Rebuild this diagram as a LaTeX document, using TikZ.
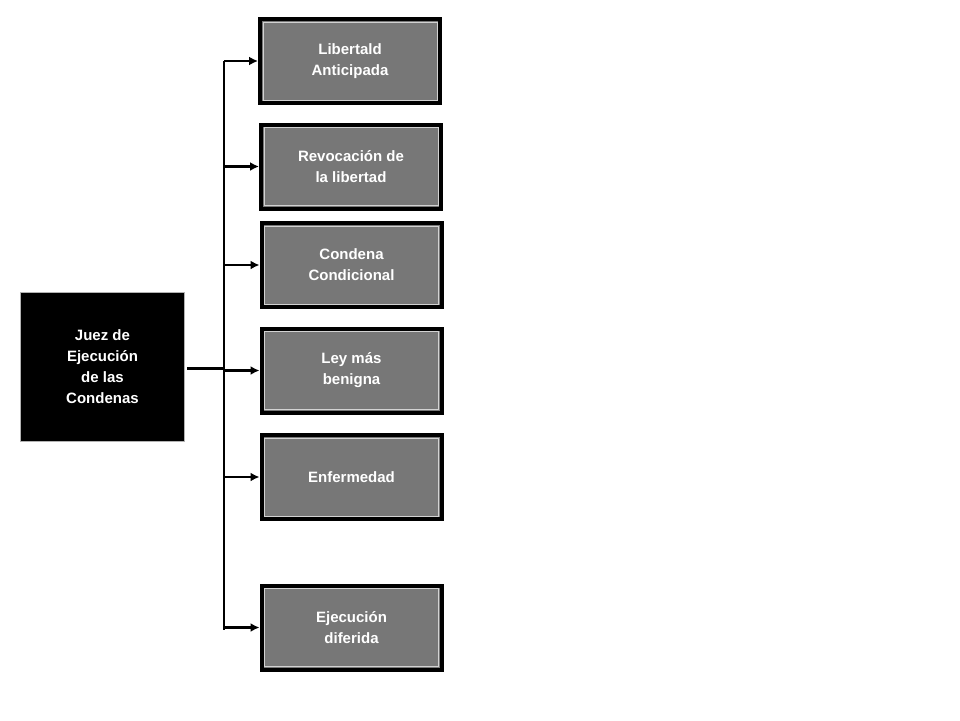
\documentclass[tikz,border=0pt]{standalone}
\usepackage{fontspec}
\setmainfont{Liberation Sans}
\begin{document}
\begin{tikzpicture}[x=1pt,y=-1pt,
  gbox/.style={draw=black,line width=4pt,fill=boxgray,minimum width=180pt,minimum height=84pt,
    inner sep=0pt,align=center,text=white,font=\bfseries\fontsize{15}{21}\selectfont,
    path picture={\draw[line width=1pt,draw=gray!35] ([shift={(3pt,-3pt)}]path picture bounding box.north west) rectangle ([shift={(-3pt,3pt)}]path picture bounding box.south east);}},
  conn/.style={line width=2.5pt,-{Latex[length=9pt,width=9pt]}}]
\usetikzlibrary{arrows.meta}
\definecolor{boxgray}{HTML}{777777}
\useasboundingbox (0,0) rectangle (960,720);
\node[gbox] (a) at (350,61) {Libertald\\Anticipada};
\node[gbox] (b) at (351,166.5) {Revocación de\\la libertad};
\node[gbox] (c) at (351.5,265) {Condena\\Condicional};
\node[gbox] (d) at (351.5,370.5) {Ley más\\benigna};
\node[gbox] (e) at (351.5,477) {Enfermedad};
\node[gbox] (f) at (351.5,627.5) {Ejecución\\diferida};
\node[draw=gray!60,line width=1pt,fill=black,minimum width=164pt,minimum height=149pt,inner sep=0pt,
  align=center,text=white,font=\bfseries\fontsize{15}{21}\selectfont] (j) at (102.5,367) {Juez de\\Ejecución\\de las\\Condenas};
\coordinate (t) at (224,61);
\coordinate (m) at (224,368);
\coordinate (bt) at (224,630);
\draw[line width=2.5pt] (t) -- (bt);
\draw[line width=3pt] (j.east|-m) ++(2,0) -- (m);
\foreach \n/\y in {a/61,b/166.5,c/265,d/370.5,e/477,f/627.5}
  \draw[conn] (224,\y) -- (\n.west);
\end{tikzpicture}
\end{document}
